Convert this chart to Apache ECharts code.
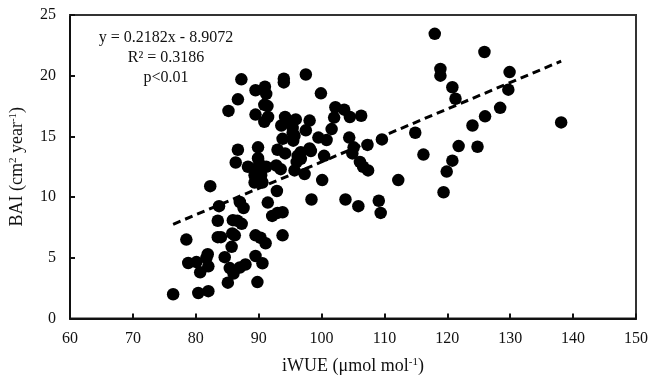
<!DOCTYPE html>
<html>
<head>
<meta charset="utf-8">
<script src="https://cdn.jsdelivr.net/npm/echarts@6/dist/echarts.min.js"></script>
<style>html,body{margin:0;padding:0;background:#fff}#c{width:651px;height:380px}</style>
</head>
<body>
<div id="c"></div>
<script>
// iWUE (x) values
const iwue = [76.4,80.4,82.0,78.5,78.8,80.1,80.7,81.7,81.9,82.0,83.5,84.0,84.6,85.1,85.4,86.0,87.0,87.9,85.7,85.8,86.2,83.5,85.9,86.6,87.3,83.7,87.0,87.6,82.3,85.2,86.7,87.25,86.7,86.35,88.3,
89.5,89.8,90.6,89.5,90.3,91.1,93.8,92.15,93.0,93.8,91.45,92.9,89.35,90.6,89.35,90.4,89.6,90.1,91.2,89.9,89.9,93.5,92.8,95.7,97.3,96.05,96.2,96.7,93.0,94.2,96.7,98.1,93.8,95.5,95.4,95.7,97.5,93.6,95.4,94.2,95.9,94.6,98.1,89.5,90.9,91.5,90.9,91.4,89.5,91.0,91.2,94.0,94.0,97.5,99.9,98.4,98.3,
99.5,100.8,100.4,100.1,101.6,102.0,102.2,103.6,104.5,106.3,104.4,105.1,104.9,106.1,106.6,107.4,107.3,109.6,103.8,105.85,109.1,109.4,112.2,114.9,116.2,
118.0,118.9,118.9,120.8,121.3,119.4,119.9,120.8,121.8,124.0,124.8,126.0,125.9,128.4,129.7,129.9,138.1];
// BAI (y) values
const bai = [2.0,2.1,2.25,6.5,4.57,4.65,3.8,5.0,5.3,4.3,6.7,6.7,5.05,2.95,4.15,3.7,4.2,4.45,5.9,7.0,6.85,8.05,8.1,8.05,7.8,9.25,9.6,9.1,10.9,17.1,18.05,19.7,13.9,12.85,12.5,
5.15,3.0,4.55,6.85,6.65,6.2,6.85,8.45,8.7,8.75,9.55,10.5,11.2,11.2,11.8,11.8,12.3,12.75,12.5,13.2,14.1,12.3,12.6,12.2,11.9,12.9,13.4,13.15,13.9,13.6,13.7,14.0,14.8,14.65,15.3,15.05,15.5,15.9,15.7,16.6,16.4,16.15,16.3,16.8,16.2,16.6,17.6,17.5,18.8,19.1,18.5,19.75,19.45,20.1,18.55,9.8,13.8,
14.9,14.7,13.4,11.4,15.6,16.55,17.4,17.2,16.6,16.7,14.9,14.1,13.6,12.9,12.5,12.2,14.3,14.75,9.8,9.25,9.7,8.7,11.4,15.3,13.5,
23.45,20.55,20.0,19.05,18.1,10.4,12.1,13.0,14.2,15.9,14.15,16.65,21.95,17.35,18.85,20.3,16.15];
// trend line end points
const trendX = [76.4, 138.1];
const trendY = [7.76, 21.2];
const xTicks = [60,70,80,90,100,110,120,130,140,150];
const yTicks = [0,5,10,15,20,25];
const eqLines = ['y = 0.2182x - 8.9072', 'R² = 0.3186', 'p<0.01'];

const pts = iwue.map((x,i)=>[x,bai[i]]);
const trend = trendX.map((x,i)=>[x,trendY[i]]);
const serif = '"Liberation Serif", "Times New Roman", serif';
const xMin = xTicks[0], xMax = xTicks[xTicks.length-1];
const yMin = yTicks[0], yMax = yTicks[yTicks.length-1];
const rich = {s:{fontFamily:serif, fontSize:11, verticalAlign:'top', padding:[0,0,8,0], color:'#111'}};

const chart = echarts.init(document.getElementById('c'), null, {renderer:'canvas'});
chart.setOption({
  animation:false,
  backgroundColor:'#fff',
  grid:{left:69, right:13, top:15, bottom:59, show:true, borderColor:'#222', borderWidth:2, backgroundColor:'rgba(0,0,0,0)'},
  xAxis:[{type:'value', min:xMin, max:xMax, interval:10,
    axisLine:{show:true, onZero:false, lineStyle:{color:'#111', width:2}},
    axisTick:{show:true, inside:true, length:5, lineStyle:{color:'#111', width:2}},
    splitLine:{show:false},
    axisLabel:{color:'#111', fontFamily:serif, fontSize:16, margin:12},
    name:'iWUE (μmol mol{s|-1})', nameLocation:'middle', nameGap:38,
    nameTextStyle:{color:'#111', fontFamily:serif, fontSize:18, rich:rich}
  },{type:'value', position:'top', min:xMin, max:xMax, interval:10, show:true,
    axisLine:{show:true, onZero:false, lineStyle:{color:'#333', width:2}},
    axisTick:{show:false}, axisLabel:{show:false}, splitLine:{show:false}}],
  yAxis:[{type:'value', min:yMin, max:yMax, interval:5,
    axisLine:{show:true, onZero:false, lineStyle:{color:'#111', width:2}},
    axisTick:{show:true, inside:true, length:5, lineStyle:{color:'#111', width:2}},
    splitLine:{show:false},
    axisLabel:{color:'#111', fontFamily:serif, fontSize:16, margin:14},
    name:'BAI (cm{s|2} year{s|-1})', nameLocation:'middle', nameGap:43,
    nameTextStyle:{color:'#111', fontFamily:serif, fontSize:18, rich:rich}
  },{type:'value', position:'right', min:yMin, max:yMax, interval:5, show:true,
    axisLine:{show:true, onZero:false, lineStyle:{color:'#333', width:2}},
    axisTick:{show:false}, axisLabel:{show:false}, splitLine:{show:false}}],
  series:[
    {type:'scatter', data:pts, symbol:'circle', symbolSize:12.5, itemStyle:{color:'#000', opacity:1}, z:2},
    {type:'line', data:trend, symbol:'none', lineStyle:{color:'#000', width:3, type:[8,5]}, z:3}
  ],
  graphic:[
    {type:'text', style:{text:eqLines[0], font:'16px '+serif, fill:'#111', textAlign:'center', x:166, y:30}},
    {type:'text', style:{text:eqLines[1], font:'16px '+serif, fill:'#111', textAlign:'center', x:166, y:50}},
    {type:'text', style:{text:eqLines[2], font:'16px '+serif, fill:'#111', textAlign:'center', x:166, y:70}}
  ]
});
</script>
</body>
</html>
